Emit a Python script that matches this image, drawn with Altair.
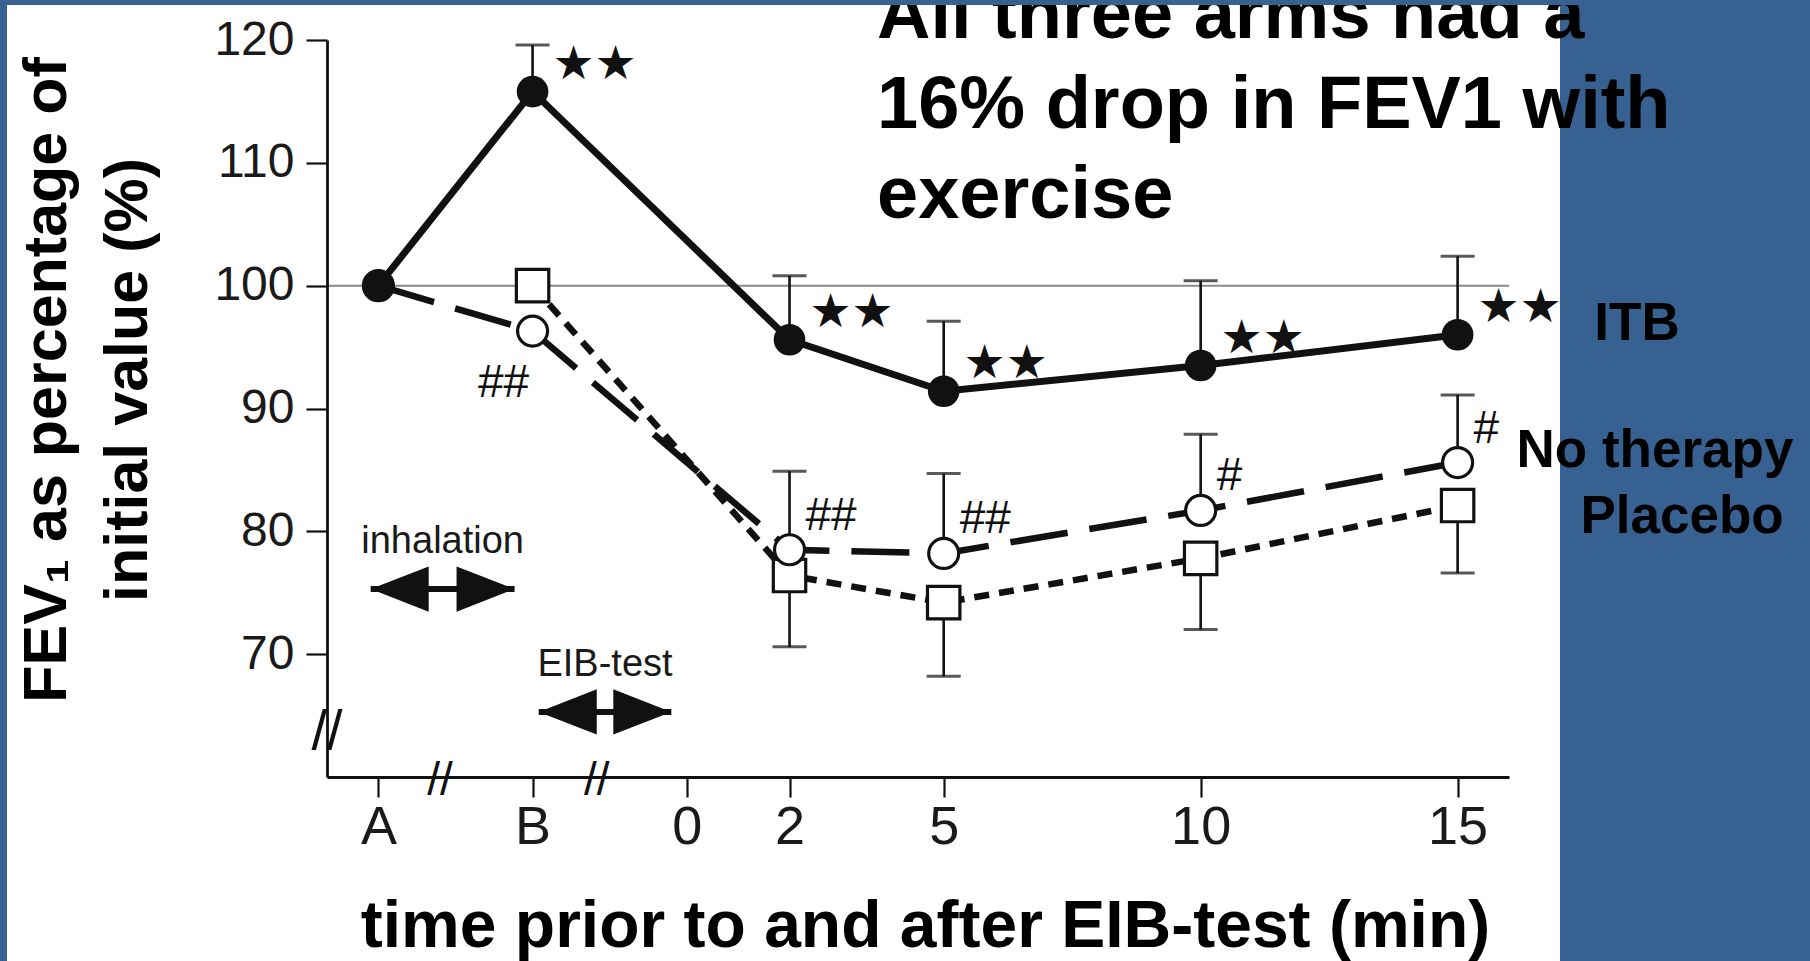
import altair as alt
import pandas as pd

# ---------------- data ----------------
times = [-6, -3, 2, 5, 10, 15]          # A = -6, B = -3 (positions on the broken axis)
itb = [100, 115.8, 95.6, 91.4, 93.5, 96.0]
itb_err = [None, 119.6, 100.8, 97.1, 100.4, 102.4]
itb_sig = ["", "★★", "★★", "★★", "★★", "★★"]

no_therapy = [100, 96.3, 78.5, 78.2, 81.7, 85.6]
no_therapy_err = [None, None, 84.9, 84.7, 87.9, 91.1]
no_therapy_sig = ["", "##", "##", "##", "#", "#"]

placebo = [None, 100, 76.4, 74.2, 77.8, 82.1]
placebo_err = [None, None, 70.6, 68.2, 72.0, 76.6]

x_tick_values = [-6, -3, 0, 2, 5, 10, 15]
x_tick_labels = ["A", "B", "0", "2", "5", "10", "15"]
y_tick_values = [70, 80, 90, 100, 110, 120]
x_domain = [-7, 16]
y_domain = [60, 120]
reference_level = [100]

phase_names = ["inhalation", "EIB-test"]
phase_start = [-6.15, -2.88]
phase_end = [-3.35, -0.3]
phase_level = [75.3, 65.3]

x_breaks = [-4.8, -1.75]
y_breaks = [63.7]

title_lines = ["All three arms had a", "16% drop in FEV1 with", "exercise"]
y_title_lines = ["FEV\u2081 as percentage of", "initial value (%)"]
x_title = "time prior to and after EIB-test (min)"
series_names = ["ITB", "No therapy", "Placebo"]

# ---------------- layout ----------------
X0, Y0 = 327, 40          # plot origin on the page
W, H = 1182, 737
BLUE = "#376190"
INK = "#111111"
FONT = "Liberation Sans"

def frame(vals, errs, sig=None):
    d = pd.DataFrame({"time": times, "value": vals, "err": errs})
    d["sig"] = sig if sig is not None else [""] * len(times)
    return d

d_itb = frame(itb, itb_err, itb_sig)
d_nt = frame(no_therapy, no_therapy_err, no_therapy_sig)
d_pl = frame(placebo, placebo_err)
one = pd.DataFrame({"k": [0]})

label_expr = " : ".join(
    f"datum.value == {v} ? '{l}'" for v, l in zip(x_tick_values, x_tick_labels)
) + " : datum.label"

xscale = alt.Scale(domain=x_domain, nice=False, zero=False)
yscale = alt.Scale(domain=y_domain, nice=False, zero=False)

xaxis = alt.Axis(
    values=x_tick_values, labelExpr=label_expr, title=x_title,
    titleFont=FONT, titleFontSize=66, titleFontWeight="bold", titleColor="black",
    titleBaseline="alphabetic", titleY=169, titleX=598, titleAlign="center",
    labelFont=FONT, labelFontSize=54, labelColor="#1a1a1a", labelPadding=3,
    tickSize=20, tickWidth=2.2, tickColor=INK, domainColor=INK, domainWidth=2.8,
    grid=False, labelFlush=False, labelOverlap=False, zindex=1,
)
yaxis = alt.Axis(
    values=y_tick_values, title=None,
    labelFont=FONT, labelFontSize=48, labelColor="#1a1a1a", labelPadding=12,
    tickSize=21, tickWidth=2.2, tickColor=INK, domainColor=INK, domainWidth=2.8,
    grid=False, labelFlush=False, labelOverlap=False, zindex=1,
)

X = alt.X("time:Q", scale=xscale, axis=xaxis)
Y = alt.Y("value:Q", scale=yscale, axis=yaxis)

panel = alt.Chart(one).mark_rect(color="white").encode(
    x=alt.value(7 - X0), x2=alt.value(1560 - X0),
    y=alt.value(5 - Y0), y2=alt.value(961 - Y0),
)

ref = alt.Chart(pd.DataFrame({"value": reference_level})).mark_rule(
    color="#8a8a8a", strokeWidth=2
).encode(y=Y)

def errbars(d):
    base = alt.Chart(d).transform_filter("isValid(datum.err)")
    bar = base.mark_rule(color=INK, strokeWidth=2.6).encode(x=X, y=Y, y2="err:Q")
    cap = base.mark_tick(orient="horizontal", size=34, thickness=3, color=INK).encode(
        x=X, y=alt.Y("err:Q", scale=yscale, axis=yaxis)
    )
    return bar + cap

line_itb = alt.Chart(d_itb).mark_line(color=INK, strokeWidth=7).encode(x=X, y=Y)
line_nt = alt.Chart(d_nt).mark_line(color=INK, strokeWidth=6.5, strokeDash=[58, 22]).encode(x=X, y=Y)
line_pl = alt.Chart(d_pl).mark_line(color=INK, strokeWidth=6.5, strokeDash=[15, 10]).encode(x=X, y=Y)

pts_nt = alt.Chart(d_nt).mark_point(
    shape="circle", filled=True, fill="white", stroke=INK, strokeWidth=3.2, size=900, opacity=1
).encode(x=X, y=Y)
pts_pl = alt.Chart(d_pl).mark_point(
    shape="square", filled=True, fill="white", stroke=INK, strokeWidth=3.2, size=1050, opacity=1
).encode(x=X, y=Y)
pts_itb = alt.Chart(d_itb).mark_point(
    shape="circle", filled=True, color=INK, size=1000, opacity=1
).encode(x=X, y=Y)

stars = alt.Chart(d_itb).transform_filter("datum.sig != ''").mark_text(
    font="DejaVu Sans", fontSize=47, color=INK, align="center", baseline="middle", dx=62, dy=-27
).encode(x=X, y=Y, text="sig:N")

hash_after = alt.Chart(d_nt).transform_filter("datum.sig != '' && datum.time > 0").mark_text(
    font=FONT, fontSize=46, color=INK, align="left", baseline="middle", dx=16, dy=-34
).encode(x=X, y=Y, text="sig:N")
hash_before = alt.Chart(d_nt).transform_filter("datum.sig != '' && datum.time < 0").mark_text(
    font=FONT, fontSize=46, color=INK, align="center", baseline="middle", dx=-29, dy=52
).encode(x=X, y=Y, text="sig:N")

# phase arrows
d_ph = pd.DataFrame({"name": phase_names, "start": phase_start, "end": phase_end, "value": phase_level})
ph = alt.Chart(d_ph)
ph_shaft = ph.mark_rule(color=INK, strokeWidth=6).encode(
    x=alt.X("start:Q", scale=xscale, axis=xaxis), x2="end:Q", y=Y
)
ph_left = ph.mark_point(
    shape="M0,0 L2,-0.78 L2,0.78 Z", filled=True, color=INK, size=3364, opacity=1, strokeWidth=0
).encode(x=alt.X("start:Q", scale=xscale, axis=xaxis), y=Y)
ph_right = ph.mark_point(
    shape="M0,0 L-2,-0.78 L-2,0.78 Z", filled=True, color=INK, size=3364, opacity=1, strokeWidth=0
).encode(x=alt.X("end:Q", scale=xscale, axis=xaxis), y=Y)
ph_text = ph.transform_calculate(mid="(datum.start + datum.end) / 2").mark_text(
    font=FONT, fontSize=38, color="#1a1a1a", align="center", baseline="alphabetic", dy=-36
).encode(x=alt.X("mid:Q", scale=xscale, axis=xaxis), y=Y, text="name:N")

# axis breaks
brk_x = alt.Chart(pd.DataFrame({"time": x_breaks, "value": [y_domain[0]] * len(x_breaks)})).mark_text(
    text="//", font=FONT, fontSize=46, color=INK, align="center", baseline="middle", dy=4
).encode(x=X, y=Y)
brk_y = alt.Chart(pd.DataFrame({"time": [x_domain[0]] * len(y_breaks), "value": y_breaks})).mark_text(
    text="//", font=FONT, fontSize=56, color=INK, align="center", baseline="middle"
).encode(x=X, y=Y)

# texts
y_title = alt.Chart(one).mark_text(
    text=y_title_lines, angle=270, align="center", baseline="alphabetic", lineHeight=81,
    font=FONT, fontSize=61, fontWeight="bold", color="black"
).encode(x=alt.value(66 - X0), y=alt.value(380 - Y0))

title = alt.Chart(one).mark_text(
    text=title_lines, align="left", baseline="alphabetic", lineHeight=90,
    font=FONT, fontSize=74, fontWeight="bold", color="black"
).encode(x=alt.value(877 - X0), y=alt.value(38 - Y0))

def series_label(name, cx, by):
    return alt.Chart(one).mark_text(
        text=name, align="center", baseline="alphabetic",
        font=FONT, fontSize=53, fontWeight="bold", color="black"
    ).encode(x=alt.value(cx - X0), y=alt.value(by - Y0))

lab_itb = series_label(series_names[0], 1637, 340)
lab_nt = series_label(series_names[1], 1655, 467)
lab_pl = series_label(series_names[2], 1682, 533)

top_band = alt.Chart(one).mark_rect(color=BLUE).encode(
    x=alt.value(-X0), x2=alt.value(1810 - X0), y=alt.value(-Y0), y2=alt.value(5 - Y0)
)

chart = alt.layer(
    panel, ref,
    errbars(d_itb), errbars(d_nt), errbars(d_pl),
    line_pl, line_nt, line_itb,
    pts_pl, pts_nt, pts_itb,
    stars, hash_after, hash_before,
    ph_shaft, ph_left, ph_right, ph_text,
    brk_x, brk_y,
    y_title, title, lab_itb, lab_nt, lab_pl,
    top_band,
).properties(
    width=W, height=H,
    padding={"left": X0, "top": Y0, "right": 1810 - X0 - W, "bottom": 961 - Y0 - H},
    autosize=alt.AutoSizeParams(type="none"),
    background=BLUE,
).configure_view(stroke=None)

chart.save("out.html", embed_options={"renderer": "svg", "actions": False})
